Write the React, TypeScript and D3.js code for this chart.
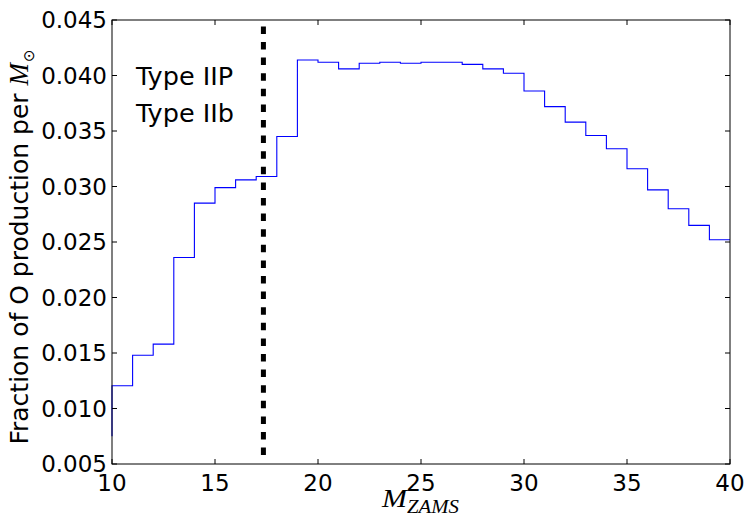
import React from 'react';
import * as d3 from 'd3';

const massBins = [10, 11, 12, 13, 14, 15, 16, 17, 18, 19, 20, 21, 22, 23, 24, 25, 26, 27, 28, 29, 30, 31, 32, 33, 34, 35, 36, 37, 38, 39, 40];
const oxygenFraction = [0.0075, 0.01205, 0.0148, 0.0158, 0.0236, 0.0285, 0.0299, 0.0306, 0.0309, 0.0345, 0.0414, 0.0412, 0.0406, 0.0411, 0.0412, 0.0411, 0.0412, 0.0412, 0.0410, 0.0406, 0.0402, 0.0386, 0.0372, 0.0358, 0.0346, 0.0334, 0.0316, 0.0297, 0.0280, 0.0265, 0.0252];
const xTicks = [10, 15, 20, 25, 30, 35, 40];
const yTicks = [0.005, 0.01, 0.015, 0.02, 0.025, 0.03, 0.035, 0.04, 0.045];
const divideMass = 17.35;
const divideRange = [0.0058, 0.0446];
const annotations = ['Type IIP', 'Type IIb'];

const W = 748, H = 524;
const M = { left: 112, right: 730, top: 20, bottom: 464 };
const FONT = '"DejaVu Sans", sans-serif';
const SERIF = '"Liberation Serif", serif';

export default function App() {
  const x = d3.scaleLinear().domain([10, 40]).range([M.left, M.right]);
  const y = d3.scaleLinear().domain([0.005, 0.045]).range([M.bottom, M.top]);
  const pts: [number, number][] = massBins.map((m, i) => [m, oxygenFraction[i]]);
  const line = d3.line<[number, number]>().x(d => x(d[0])).y(d => y(d[1])).curve(d3.curveStepBefore);
  const tl = 5;
  return (
    <svg width={W} height={H} style={{ position: 'absolute', left: 0, top: 0, background: '#fff' }} fontFamily={FONT}>
      <rect x={0} y={0} width={W} height={H} fill="#fff" />
      <path d={line(pts) || ''} fill="none" stroke="#0000ff" strokeWidth={1.1} />
      <line x1={x(divideMass)} x2={x(divideMass)} y1={y(divideRange[0])} y2={y(divideRange[1])} stroke="#000" strokeWidth={5} strokeDasharray="7.5 8.1" />
      {annotations.map((t, i) => (
        <text key={t} x={136} y={85 + i * 36.7} fontSize={25.5} fill="#000">{t}</text>
      ))}
      {xTicks.map(t => (
        <g key={'x' + t}>
          <line x1={x(t)} x2={x(t)} y1={M.bottom} y2={M.bottom - tl} stroke="#000" />
          <line x1={x(t)} x2={x(t)} y1={M.top} y2={M.top + tl} stroke="#000" />
          <text x={x(t)} y={491} fontSize={23} textAnchor="middle">{t}</text>
        </g>
      ))}
      {yTicks.map(t => (
        <g key={'y' + t}>
          <line x1={M.left} x2={M.left + tl} y1={y(t)} y2={y(t)} stroke="#000" />
          <line x1={M.right} x2={M.right - tl} y1={y(t)} y2={y(t)} stroke="#000" />
          <text x={107} y={y(t)} dy="0.36em" fontSize={23} textAnchor="end">{d3.format('.3f')(t)}</text>
        </g>
      ))}
      <rect x={M.left} y={M.top} width={M.right - M.left} height={M.bottom - M.top} fill="none" stroke="#000" strokeWidth={1} />
      <text transform={`translate(28,${(M.top + M.bottom) / 2 + 5}) rotate(-90)`} fontSize={25} textAnchor="middle">
        Fraction of O production per{' '}
        <tspan fontFamily={SERIF} fontStyle="italic" fontSize={27}>M</tspan>
        <tspan fontSize={15} dy={6} dx={1}>⊙</tspan>
      </text>
      <text y={507} fontFamily={SERIF} fontStyle="italic">
        <tspan x={382} fontSize={26} textLength={25} lengthAdjust="spacingAndGlyphs">M</tspan>
        <tspan x={407} dy={6} fontSize={18} textLength={52} lengthAdjust="spacingAndGlyphs">ZAMS</tspan>
      </text>
    </svg>
  );
}
